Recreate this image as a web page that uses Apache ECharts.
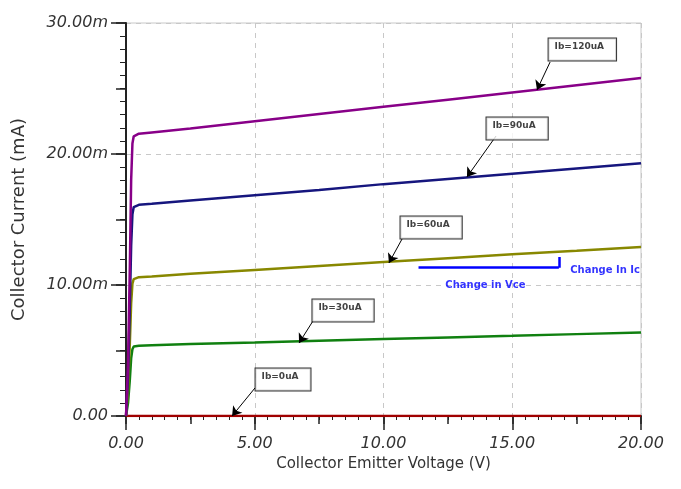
<!DOCTYPE html>
<html><head><meta charset="utf-8">
<script src="https://cdn.jsdelivr.net/npm/echarts@6/dist/echarts.min.js"></script>
<style>html,body{margin:0;padding:0;background:#fff}#c{width:681px;height:489px}</style>
</head><body><div id="c"></div>
<script>
// Collector-emitter voltage samples (V)
const vce   = [0, 0.08, 0.15, 0.2, 0.25, 0.3, 0.5, 1, 2.5, 5, 7.5, 10, 12.5, 15, 17.5, 20];
// Collector current (mA) for each base current
const ib0   = [0, 0, 0, 0, 0, 0, 0, 0, 0, 0, 0, 0, 0, 0, 0, 0];
const ib30  = [0, 1.0, 2.8, 4.4, 5.1, 5.3, 5.36, 5.4, 5.5, 5.62, 5.75, 5.88, 6.0, 6.12, 6.25, 6.38];
const ib60  = [0, 2.0, 5.6, 8.6, 10.1, 10.45, 10.6, 10.65, 10.85, 11.15, 11.45, 11.75, 12.05, 12.35, 12.62, 12.9];
const ib90  = [0, 3.0, 8.5, 13.0, 15.4, 15.95, 16.12, 16.2, 16.45, 16.85, 17.25, 17.7, 18.1, 18.5, 18.9, 19.3];
const ib120 = [0, 4.0, 11.5, 18.0, 20.8, 21.35, 21.55, 21.65, 21.95, 22.5, 23.05, 23.6, 24.15, 24.7, 25.25, 25.8];

const xTickLabels = ['0.00', '5.00', '10.00', '15.00', '20.00'];
const yTickLabels = ['0.00', '10.00m', '20.00m', '30.00m'];

// Annotation boxes: label, box top-left [V, mA], arrow start, arrow tip
const boxNames  = ['Ib=120uA', 'Ib=90uA', 'Ib=60uA', 'Ib=30uA', 'Ib=0uA'];
const boxPos    = [[16.43, 28.78], [14.02, 22.75], [10.68, 15.19], [7.26, 8.85], [5.05, 3.59]];
const arrowFrom = [[16.47, 27.02], [14.37, 21.37], [10.72, 13.51], [7.26, 7.25], [5.01, 2.14]];
const arrowTo   = [[15.96, 24.89], [13.24, 18.24], [10.21, 11.68], [6.72, 5.57], [4.12, 0.0]];

// "Change in" annotation
const changeLines = [[[11.36, 11.32], [16.81, 11.32]], [[16.81, 11.32], [16.81, 12.14]]];
const changeTexts = ['Change In Ic', 'Change in Vce'];
const changeTextPos = [[17.27, 11.0], [12.42, 9.85]];

const pair = arr => vce.map((v, i) => [v, arr[i]]);

const curves = [
  {name: 'Ib=0uA', data: ib0, color: '#a00000'},
  {name: 'Ib=30uA', data: ib30, color: '#108010'},
  {name: 'Ib=60uA', data: ib60, color: '#888800'},
  {name: 'Ib=90uA', data: ib90, color: '#16167e'},
  {name: 'Ib=120uA', data: ib120, color: '#880088'}
];

const tickFont = {fontFamily: 'DejaVu Sans', fontStyle: 'italic', fontSize: 16, color: '#333'};

const series = curves.map(c => ({
  type: 'line', name: c.name, data: pair(c.data), showSymbol: false, symbol: 'none',
  lineStyle: {color: c.color, width: 2.5}, itemStyle: {color: c.color},
  xAxisIndex: 0, yAxisIndex: 0, z: 3
}));

series.push({
  type: 'lines', coordinateSystem: 'cartesian2d', xAxisIndex: 0, yAxisIndex: 0,
  symbol: ['none', 'arrow'], symbolSize: [0, 9],
  lineStyle: {color: '#000', width: 1, opacity: 1},
  data: arrowFrom.map((p, i) => ({coords: [p, arrowTo[i]]})), z: 5
});

series.push({
  type: 'scatter', xAxisIndex: 0, yAxisIndex: 0, symbolSize: 1,
  itemStyle: {color: 'rgba(0,0,0,0)'},
  data: boxNames.map((n, i) => ({name: n, value: boxPos[i]})),
  label: {show: true, position: [0, 0], formatter: p => p.name,
    fontFamily: 'DejaVu Sans', fontWeight: 'bold', fontSize: 9, color: '#111',
    backgroundColor: '#fff', borderColor: '#000', borderWidth: 1,
    padding: [3, 12, 8, 6], lineHeight: 11},
  z: 6, silent: true
});

series.push({
  type: 'lines', coordinateSystem: 'cartesian2d', xAxisIndex: 0, yAxisIndex: 0,
  symbol: 'none', lineStyle: {color: '#0000ff', width: 2.5, opacity: 1},
  data: changeLines.map(c => ({coords: c})), z: 5
});

series.push({
  type: 'scatter', xAxisIndex: 0, yAxisIndex: 0, symbolSize: 1,
  itemStyle: {color: 'rgba(0,0,0,0)'},
  data: changeTexts.map((n, i) => ({name: n, value: changeTextPos[i]})),
  label: {show: true, position: [0, -6], formatter: p => p.name,
    fontFamily: 'DejaVu Sans', fontWeight: 'bold', fontSize: 10, color: '#0000ff'},
  z: 6, silent: true
});

const option = {
  animation: false,
  backgroundColor: '#fff',
  grid: {left: 126, right: 40, top: 23, bottom: 73, show: true, borderColor: '#c8c8c8', borderWidth: 1, backgroundColor: 'transparent'},
  xAxis: [
    {type: 'value', position: 'bottom', min: 0, max: 20, interval: 5,
     name: 'Collector Emitter Voltage (V)', nameLocation: 'middle', nameGap: 41,
     nameTextStyle: {fontFamily: 'DejaVu Sans', fontSize: 15, color: '#333'},
     axisLine: {show: true, onZero: false, lineStyle: {color: '#222', width: 2}},
     axisTick: {show: true, length: 14, lineStyle: {color: '#222', width: 1.5}},
     minorTick: {show: true, splitNumber: 10, length: 4, lineStyle: {color: '#222', width: 1}},
     axisLabel: Object.assign({margin: 20, formatter: v => xTickLabels[Math.round(v / 5)]}, tickFont),
     splitLine: {show: true, lineStyle: {color: '#c8c8c8', type: [5, 5], width: 1}},
     minorSplitLine: {show: false}},
    {type: 'value', position: 'bottom', min: 0, max: 20, interval: 2.5,
     axisLine: {show: false}, axisLabel: {show: false}, splitLine: {show: false},
     axisTick: {show: true, length: 8, lineStyle: {color: '#222', width: 1.5}}}
  ],
  yAxis: [
    {type: 'value', position: 'left', min: 0, max: 30, interval: 10,
     name: 'Collector Current (mA)', nameLocation: 'middle', nameGap: 98,
     nameTextStyle: {fontFamily: 'DejaVu Sans', fontSize: 18, color: '#333'},
     axisLine: {show: true, onZero: false, lineStyle: {color: '#222', width: 2}},
     axisTick: {show: true, length: 15, lineStyle: {color: '#222', width: 1.5}},
     minorTick: {show: true, splitNumber: 10, length: 6, lineStyle: {color: '#222', width: 1}},
     axisLabel: Object.assign({margin: 18, formatter: v => yTickLabels[Math.round(v / 10)]}, tickFont),
     splitLine: {show: true, lineStyle: {color: '#c8c8c8', type: [5, 5], width: 1}}},
    {type: 'value', position: 'left', min: 0, max: 30, interval: 5,
     axisLine: {show: false}, axisLabel: {show: false}, splitLine: {show: false},
     axisTick: {show: true, length: 10, lineStyle: {color: '#222', width: 1.5}}}
  ],
  series: series
};

const chart = echarts.init(document.getElementById('c'), null, {renderer: 'canvas'});
chart.setOption(option);
</script></body></html>
